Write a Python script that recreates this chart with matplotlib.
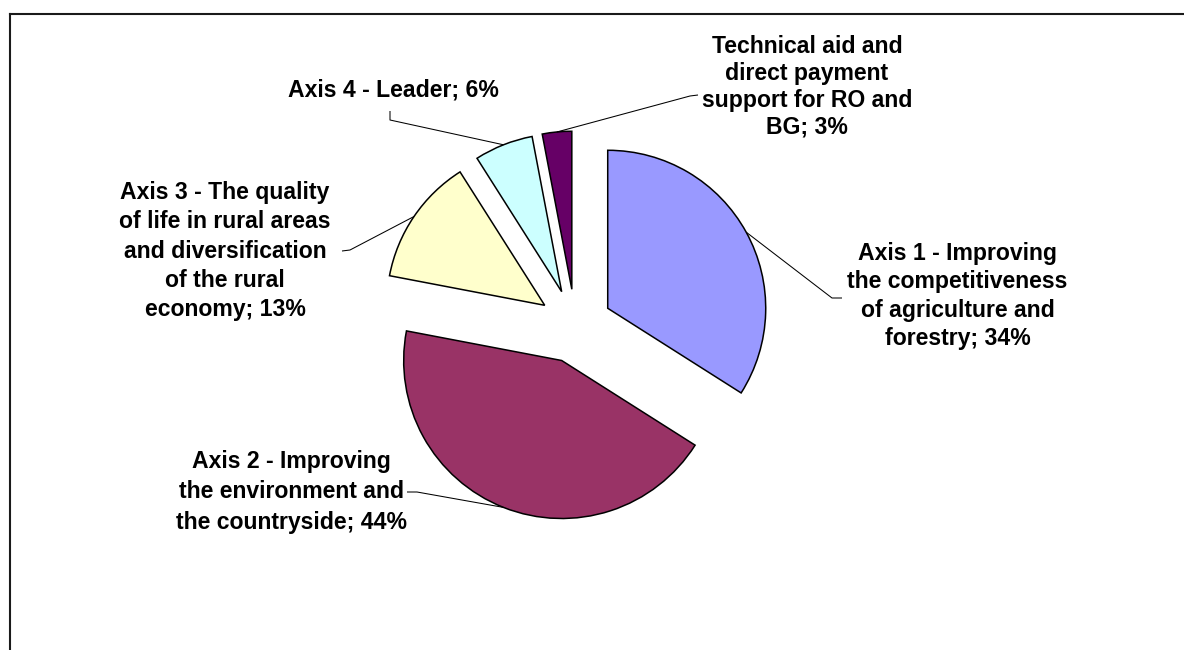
import matplotlib
matplotlib.use("Agg")
import matplotlib.pyplot as plt
import numpy as np

# ---------------- data ----------------
categories = [
    "Axis 1 - Improving\nthe competitiveness\nof agriculture and\nforestry",
    "Axis 2 - Improving\nthe environment and\nthe countryside",
    "Axis 3 - The quality\nof life in rural areas\nand diversification\nof the rural\neconomy",
    "Axis 4 - Leader",
    "Technical aid and\ndirect payment\nsupport for RO and\nBG",
]
values = [34, 44, 13, 6, 3]
colors = ["#9999FF", "#993366", "#FFFFCC", "#CCFFFF", "#660066"]

# ---------------- layout (pixel units, y measured from top) ----------------
W, H = 1184, 650
label_pos = [(957.5, 296), (291.5, 492), (225, 251), (393.5, 90), (807, 87)]
label_ls = [1.28, 1.41, 1.35, 1.2, 1.22]
elbows = [
    [(832, 298), (842, 298)],
    [(417, 492), (407, 492)],
    [(350, 250), (342, 251)],
    [(390, 120), (390, 111)],
    [(690, 96), (698, 95)],
]

plt.rcParams['font.family'] = ['Liberation Sans', 'DejaVu Sans']

fig = plt.figure(figsize=(W / 100, H / 100), dpi=100)
ax = fig.add_axes([0, 0, 1, 1])

cx, cy = 575.3, H - 326.1
R = 158
explode = [37] * len(values)   # offset in pixel/data units
wedges, _ = ax.pie(values, colors=colors, startangle=90, counterclock=False,
                   radius=R, center=(cx, cy), explode=explode,
                   wedgeprops=dict(edgecolor='black', linewidth=1.1))
ax.set_xlim(0, W)
ax.set_ylim(0, H)
ax.set_aspect('equal')
ax.axis('off')

total = sum(values)
for w, cat, v, (tx, ty), ls, elb in zip(wedges, categories, values,
                                         label_pos, label_ls, elbows):
    mid = np.deg2rad((w.theta1 + w.theta2) / 2)
    ax0 = w.center[0] + w.r * np.cos(mid)
    ay0 = w.center[1] + w.r * np.sin(mid)
    xs = [ax0] + [p[0] for p in elb]
    ys = [ay0] + [H - p[1] for p in elb]
    ax.plot(xs, ys, color='black', lw=0.75, solid_capstyle='butt')
    pct = round(100 * v / total)
    ax.text(tx, H - ty, f"{cat}; {pct}%", ha='center', va='center',
            multialignment='center', fontsize=16.6, fontweight='bold',
            linespacing=ls, color='black')

# chart-area frame (left and top edges visible)
ax.plot([9.5, 9.5], [0, H - 13.5], color='#1a1a1a', lw=1.5, clip_on=False)
ax.plot([9.5, W], [H - 13.5, H - 13.5], color='#1a1a1a', lw=1.5, clip_on=False)

fig.savefig("out.png", dpi=100)
